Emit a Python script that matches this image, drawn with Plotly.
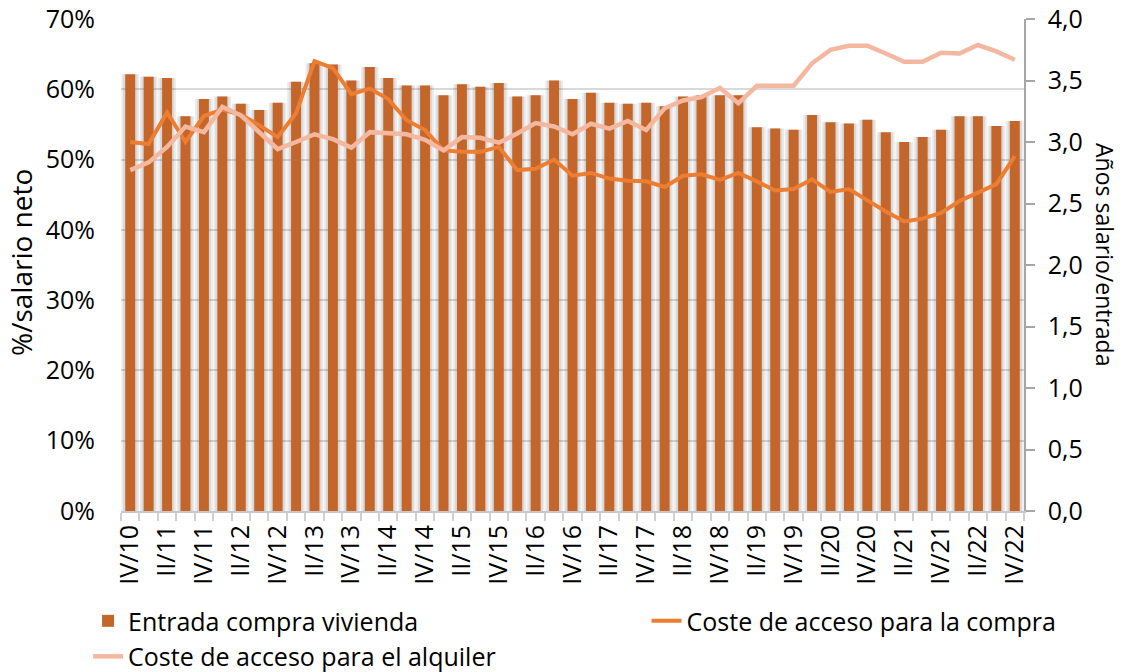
import plotly.graph_objects as go

# Quarters IV/10 .. IV/22
quarters = ["IV/10"] + [f"{q}/{y}" for y in range(11, 23) for q in ["I", "II", "III", "IV"]]
tick_labels = quarters[::2]

# Entrada compra vivienda (años de salario) – right axis
entrada = [3.55, 3.53, 3.52, 3.21, 3.35, 3.37, 3.31, 3.26, 3.32, 3.49,
           3.64, 3.63, 3.50, 3.61, 3.52, 3.46, 3.46, 3.38, 3.47, 3.45,
           3.48, 3.37, 3.38, 3.50, 3.35, 3.40, 3.32, 3.31, 3.32, 3.29,
           3.37, 3.38, 3.38, 3.38, 3.12, 3.11, 3.10, 3.22, 3.16, 3.15,
           3.18, 3.08, 3.00, 3.04, 3.10, 3.21, 3.21, 3.13, 3.17]

# Coste de acceso para la compra (% salario neto) – left axis
compra = [52.5, 52.2, 56.7, 52.5, 56.2, 57.1, 56.4, 54.9, 53.2, 56.6,
          64.0, 63.0, 59.3, 60.1, 58.6, 55.6, 54.2, 51.3, 51.1, 51.1,
          51.8, 48.5, 48.7, 50.0, 47.7, 48.1, 47.3, 47.0, 46.9, 46.1,
          47.7, 47.9, 47.1, 48.1, 46.9, 45.6, 45.8, 47.2, 45.4, 45.8,
          44.2, 42.6, 41.2, 41.6, 42.4, 44.1, 45.3, 46.5, 50.5]

# Coste de acceso para el alquiler (% salario neto) – left axis
alquiler = [48.5, 49.6, 51.8, 54.7, 53.9, 57.5, 56.3, 53.9, 51.5, 52.5,
            53.6, 52.9, 51.7, 53.9, 53.7, 53.6, 52.8, 51.3, 53.2, 53.1,
            52.4, 53.7, 55.2, 54.7, 53.6, 55.1, 54.4, 55.5, 54.2, 57.3,
            58.4, 58.9, 60.2, 58.0, 60.5, 60.5, 60.5, 63.7, 65.6, 66.2,
            66.2, 65.1, 63.9, 63.9, 65.2, 65.1, 66.3, 65.4, 64.2]

x = list(range(len(quarters)))
FONT = "Open Sans"
FS = 25
BAR_COLOR = "#C4652A"
COMPRA_COLOR = "#ED7D31"
ALQ_COLOR = "#F4B7A0"

fig = go.Figure()

# soft shadow behind bars
fig.add_trace(go.Bar(x=x, y=entrada, width=0.96, marker=dict(color="rgba(0,0,0,0.08)", line=dict(width=0)),
                     showlegend=False, hoverinfo="skip", yaxis="y"))
fig.add_trace(go.Bar(x=x, y=entrada, width=0.76, marker=dict(color="rgba(0,0,0,0.08)", line=dict(width=0)),
                     showlegend=False, hoverinfo="skip", yaxis="y"))
fig.add_trace(go.Bar(x=x, y=entrada, width=0.54, name="Entrada compra vivienda",
                     marker=dict(color=BAR_COLOR, line=dict(width=0)), yaxis="y",
                     customdata=quarters, legend="legend"))
fig.add_trace(go.Scatter(x=x, y=compra, mode="lines", name="Coste de acceso para la compra",
                         line=dict(color=COMPRA_COLOR, width=4), yaxis="y2", legend="legend2"))
fig.add_trace(go.Scatter(x=x, y=alquiler, mode="lines", name="Coste de acceso para el alquiler",
                         line=dict(color=ALQ_COLOR, width=4.5), yaxis="y2", legend="legend"))

legend_common = dict(
    orientation="v", yanchor="top", xanchor="left",
    font=dict(size=FS, family=FONT), bgcolor="rgba(0,0,0,0)",
    tracegroupgap=0, itemwidth=30,
)

fig.update_layout(
    width=1123, height=672,
    margin=dict(l=121, r=99, t=19, b=161, autoexpand=False),
    paper_bgcolor="white", plot_bgcolor="white",
    barmode="overlay",
    separators=",.",
    font=dict(family=FONT, size=FS, color="#000000"),
    xaxis=dict(
        range=[-0.5, len(quarters) - 0.5],
        tickmode="array", tickvals=x[::2], ticktext=tick_labels,
        tickangle=-90, ticks="", showgrid=False,
        showline=True, linecolor="#c8c8c8", linewidth=2,
        ticklabelstandoff=2,
        tickfont=dict(size=FS),
        minor=dict(tick0=-0.5, dtick=1, ticks="outside", ticklen=8,
                   tickcolor="#d0d0d0", tickwidth=2, showgrid=False),
        zeroline=False,
    ),
    yaxis=dict(
        side="right", range=[0, 4], dtick=0.5, tickformat=".1f",
        showgrid=False, zeroline=False,
        showline=True, linecolor="#a6a6a6", linewidth=1.5,
        ticks="outside", ticklen=9, tickcolor="#a6a6a6", tickwidth=1.5,
        ticklabelstandoff=8, tickfont=dict(size=FS),
    ),
    yaxis2=dict(
        side="left", overlaying="y", range=[0, 70], dtick=10, ticksuffix="%",
        showgrid=True, gridcolor="#d9d9d9", gridwidth=2,
        zeroline=False, showline=False, ticks="",
        ticklabelstandoff=25, tickfont=dict(size=FS),
    ),
    legend=dict(x=-0.0365, y=-0.177, **legend_common),
    legend2=dict(x=0.582, y=-0.177, **legend_common),
    annotations=[
        dict(text="%/salario neto", textangle=-90, xref="paper", yref="paper",
             x=(21 - 121) / 903, y=(511 - 263) / 492, showarrow=False,
             xanchor="center", yanchor="middle", font=dict(size=28, family=FONT)),
        dict(text="Años salario/entrada", textangle=90, xref="paper", yref="paper",
             x=(1105 - 121) / 903, y=(511 - 254) / 492, showarrow=False,
             xanchor="center", yanchor="middle", font=dict(size=23, family=FONT)),
    ],
)

fig.write_html("out.html", config={"displayModeBar": False},
               post_script="document.body.style.margin='0px';")
